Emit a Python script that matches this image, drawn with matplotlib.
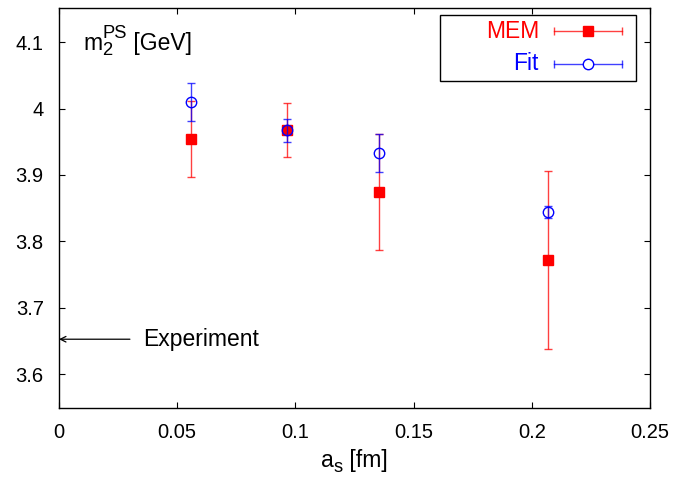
import matplotlib
matplotlib.use("Agg")
import matplotlib.pyplot as plt
from matplotlib.lines import Line2D
from matplotlib.patches import Rectangle
from matplotlib.transforms import offset_copy

plt.rcParams['font.family'] = ['Liberation Sans', 'DejaVu Sans']

# Data
a_s = [0.0559, 0.0964, 0.1354, 0.207]
mem = [3.954, 3.968, 3.874, 3.7715]
mem_err = [0.057, 0.041, 0.087, 0.134]
fit = [4.010, 3.967, 3.933, 3.844]
fit_err = [0.029, 0.017, 0.029, 0.009]
experiment = 3.6526
xticks = [0, 0.05, 0.1, 0.15, 0.2, 0.25]
yticks = [3.6, 3.7, 3.8, 3.9, 4.0, 4.1]
ytick_labels = ['3.6', '3.7', '3.8', '3.9', '4', '4.1']
xtick_labels = ['0', '0.05', '0.1', '0.15', '0.2', '0.25']

W, H = 677, 484
fig = plt.figure(figsize=(W / 100, H / 100), dpi=100)
ax = fig.add_axes([59 / W, 1 - 408 / H, 591 / W, 400 / H])
renderer = fig.canvas.get_renderer()

red = '#ff0000'
blue = '#0000ff'
TXT = 16.5
TICK = 14.5

ax.errorbar(a_s, mem, yerr=mem_err, fmt='none', ecolor=red, elinewidth=1.0,
            capsize=3, capthick=1.0, alpha=0.75, zorder=2)
ax.plot(a_s, mem, 's', color=red, markersize=7.2, zorder=3)
ax.errorbar(a_s, fit, yerr=fit_err, fmt='none', ecolor=blue, elinewidth=1.0,
            capsize=3, capthick=1.0, alpha=0.75, zorder=4)
ax.plot(a_s, fit, 'o', mfc='none', mec=blue, mew=1.0, markersize=7.5, zorder=5)

ax.set_xlim(0, 0.25)
ax.set_ylim(3.549, 4.1515)
ax.set_xticks(xticks)
ax.set_xticklabels(xtick_labels)
ax.set_yticks(yticks)
ax.set_yticklabels(ytick_labels)
ax.tick_params(direction='in', length=4.5, width=0.8, top=True, right=True,
               labelsize=TICK)
ax.tick_params(axis='y', pad=11)
ax.tick_params(axis='x', pad=11)
for s in ax.spines.values():
    s.set_linewidth(1.0)


def rich_text(x, y, pieces, transform, size):
    """pieces: list of (text, kind) with kind in 'n', 'sub', 'sup'."""
    dx = 0.0
    for txt, kind in pieces:
        fs = size if kind == 'n' else size * 0.8
        dy = 0.0
        if kind == 'sub':
            dy = -size * 0.22
        elif kind == 'sup':
            dy = size * 0.52
        tr = offset_copy(transform, fig=fig, x=dx, y=dy, units='points')
        t = ax.text(x, y, txt, transform=tr, fontsize=fs, va='baseline',
                    ha='left')
        w = t.get_window_extent(renderer=renderer).width * 72 / fig.dpi
        if kind != 'sub':
            dx += w
        else:
            sub_w = w
            dx += 0  # superscript stacks above subscript
            last_sub = w
    return


# y-axis label inside plot: m_2^PS [GeV]
tr_ax = ax.transAxes
t_m = ax.text(0.0406, 0.895, 'm', transform=tr_ax, fontsize=TXT,
              va='baseline', ha='left')
wm = t_m.get_window_extent(renderer=renderer).width * 72 / fig.dpi
t_2 = ax.text(0.0406, 0.895, '2',
              transform=offset_copy(tr_ax, fig=fig, x=wm, y=-TXT * 0.22,
                                    units='points'),
              fontsize=TXT * 0.8, va='baseline', ha='left')
w2 = t_2.get_window_extent(renderer=renderer).width * 72 / fig.dpi
t_ps = ax.text(0.0406, 0.895, 'PS',
               transform=offset_copy(tr_ax, fig=fig, x=wm, y=TXT * 0.52,
                                     units='points'),
               fontsize=TXT * 0.8, va='baseline', ha='left')
wps = t_ps.get_window_extent(renderer=renderer).width * 72 / fig.dpi
ax.text(0.0406, 0.895, ' [GeV]',
        transform=offset_copy(tr_ax, fig=fig, x=wm + max(w2, wps), y=0,
                              units='points'),
        fontsize=TXT, va='baseline', ha='left')

# x-axis label: a_s [fm], centered below axis
xl_x, xl_y = 0.5, -0.148
pieces = [('a', TXT, 0.0), ('s', TXT * 0.8, -TXT * 0.22), (' [fm]', TXT, 0.0)]
widths = []
for txt, fs, dy in pieces:
    tt = ax.text(0, 0, txt, fontsize=fs)
    widths.append(tt.get_window_extent(renderer=renderer).width * 72 / fig.dpi)
    tt.remove()
total = sum(widths)
dx = -total / 2
for (txt, fs, dy), w in zip(pieces, widths):
    ax.text(xl_x, xl_y, txt, fontsize=fs, va='baseline', ha='left',
            transform=offset_copy(tr_ax, fig=fig, x=dx, y=dy, units='points'))
    dx += w

# Experiment arrow
ax.annotate('', xy=(0, experiment), xytext=(0.030, experiment),
            arrowprops=dict(arrowstyle='->', color='black', lw=0.9,
                            shrinkA=0, shrinkB=0))
ax.text(0.0355, experiment, 'Experiment', fontsize=TXT, va='center', ha='left')

# Legend (gnuplot style)
ax.add_patch(Rectangle((0.6447, 0.8175), 0.9763 - 0.6447, 0.9825 - 0.8175,
                       transform=tr_ax, fill=False, edgecolor='black', lw=1.0,
                       zorder=6))
rows = [(0.9425, 'MEM', red, 's', red), (0.86, 'Fit', blue, 'o', 'none')]
for yy, lab, col, mk, fc in rows:
    ax.text(0.812, yy, lab, transform=tr_ax, color=col, fontsize=TXT,
            ha='right', va='center')
    ax.add_line(Line2D([0.8376, 0.9526], [yy, yy], transform=tr_ax, color=col,
                       lw=1.0, alpha=0.75))
    ax.add_line(Line2D([0.8376, 0.9526], [yy, yy], transform=tr_ax, color=col,
                       lw=0, marker='|', markersize=6, mew=1.0, alpha=0.75))
    ax.add_line(Line2D([0.895], [yy], transform=tr_ax, color=col, lw=0,
                       marker=mk, markersize=7.2 if mk == 's' else 7.5,
                       mfc=fc if fc != 'none' else 'white', mec=col, mew=1.0))

fig.savefig('out.png', dpi=100)
